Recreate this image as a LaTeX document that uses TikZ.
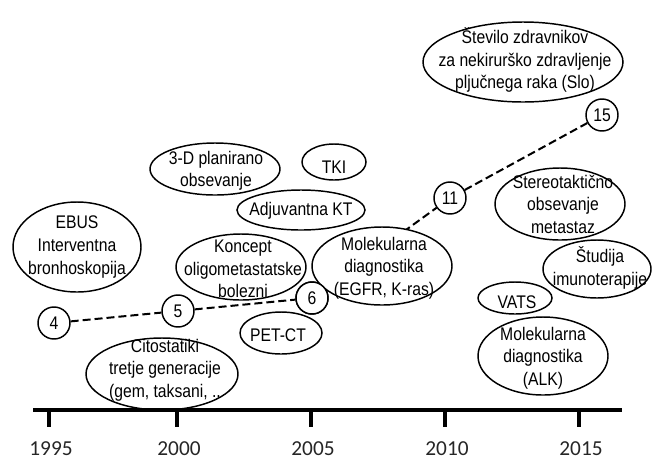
\documentclass[tikz,border=0pt]{standalone}
\usepackage{fontspec}
\setmainfont[FakeStretch=0.86]{Liberation Sans}
\newfontfamily\yearfont{Carlito}
\usetikzlibrary{shapes.geometric}
\begin{document}
\begin{tikzpicture}[x=0.75pt,y=-0.75pt,
  ell/.style={draw=black,fill=white,line width=1.1pt,ellipse,inner sep=0pt},
  txt/.style={align=center,inner sep=0pt,font=\fontsize{13.7}{16.9}\selectfont},
  num/.style={draw=black,fill=white,line width=1.1pt,circle,minimum size=24pt,inner sep=0pt,font=\fontsize{13.7}{16.9}\selectfont},
  trend/.style={dashed,dash pattern=on 6pt off 3pt,line width=1.5pt},
  axisline/.style={line width=2.6pt},
  tick/.style={line width=2.4pt},
  year/.style={font=\yearfont\fontsize{16}{19}\selectfont,inner sep=0pt,text depth=0pt,anchor=base,text=black!85}]
\useasboundingbox (0,0) rectangle (652,458);

% number circles
\node[num] (c4) at (54,323) {4};
\node[num] (c5) at (178,311) {5};
\node[num] (c6) at (312,298) {6};
\node[num] (c11) at (450,198) {11};
\node[num] (c15) at (602,115) {15};

% dashed trend
\draw[trend] (c4) -- (c5);
\draw[trend] (c5) -- (c6);
\draw[trend] (c6) -- (c11);
\draw[trend] (c11) -- (c15);

% ellipses
\node[ell,minimum width=128*0.75pt,minimum height=90*0.75pt] (ebus) at (77,247) {};
\node[ell,minimum width=130*0.75pt,minimum height=52*0.75pt] (plan) at (215,169) {};
\node[ell,minimum width=64*0.75pt,minimum height=36*0.75pt] (tki) at (334,162) {};
\node[ell,minimum width=128*0.75pt,minimum height=40*0.75pt] (adj) at (301,210) {};
\node[ell,minimum width=130*0.75pt,minimum height=66*0.75pt] (konc) at (241,267) {};
\node[ell,minimum width=140*0.75pt,minimum height=78*0.75pt] (mole) at (382,266) {};
\node[ell,minimum width=152*0.75pt,minimum height=72*0.75pt] (cito) at (162,374) {};
\node[ell,minimum width=82*0.75pt,minimum height=42*0.75pt] (pet) at (281,333) {};
\node[ell,minimum width=200*0.75pt,minimum height=80*0.75pt] (stev) at (523,62) {};
\node[ell,minimum width=130*0.75pt,minimum height=72*0.75pt] (ster) at (560,204) {};
\node[ell,minimum width=108*0.75pt,minimum height=58*0.75pt] (stud) at (597,269) {};
\node[ell,minimum width=74*0.75pt,minimum height=32*0.75pt] (vats) at (515,298) {};
\node[ell,minimum width=130*0.75pt,minimum height=78*0.75pt] (alk) at (543,356) {};

% redraw circle 6 on top
\node[num] (c6b) at (c6) {6};

% texts
\node[txt] (ebus-t) at (77,247) {EBUS\\Interventna\\bronhoskopija};
\node[txt] (plan-t) at (216,171) {3-D planirano\\obsevanje};
\node[txt] (tki-t) at (334,167) {TKI};
\node[txt] (adj-t) at (301,211) {Adjuvantna KT};
\node[txt] (konc-t) at (243,269) {Koncept\\oligometastatske\\bolezni};
\node[txt] (mole-t) at (384,268) {Molekularna\\diagnostika\\(EGFR, K-ras)};
\node[txt] (cito-t) at (165,370) {Citostatiki\\tretje generacije\\(gem, taksani, ..};
\node[txt] (pet-t) at (278,335) {PET-CT};
\node[txt] (stev-t) at (525,60) {Število zdravnikov\\za nekirurško zdravljenje\\pljučnega raka (Slo)};
\node[txt] (ster-t) at (563,204) {Stereotaktično\\obsevanje\\metastaz};
\node[txt] (stud-t) at (600,268) {Študija\\imunoterapije};
\node[txt] (vats-t) at (517,302) {VATS};
\node[txt] (alk-t) at (543,358) {Molekularna\\diagnostika\\(ALK)};

% axis
\coordinate (axL) at (33,410);
\coordinate (axR) at (622,410);
\draw[axisline] (axL) -- (axR);
\foreach \xx/\yr in {49/1995,177/2000,311/2005,445/2010,579/2015}{
  \coordinate (t\yr) at (\xx,410);
  \coordinate (tb\yr) at (\xx,427);
  \draw[tick] (t\yr) -- (tb\yr);
  \node[year] (y\yr) at (\xx+2,455) {\yr};
}
\end{tikzpicture}
\end{document}
